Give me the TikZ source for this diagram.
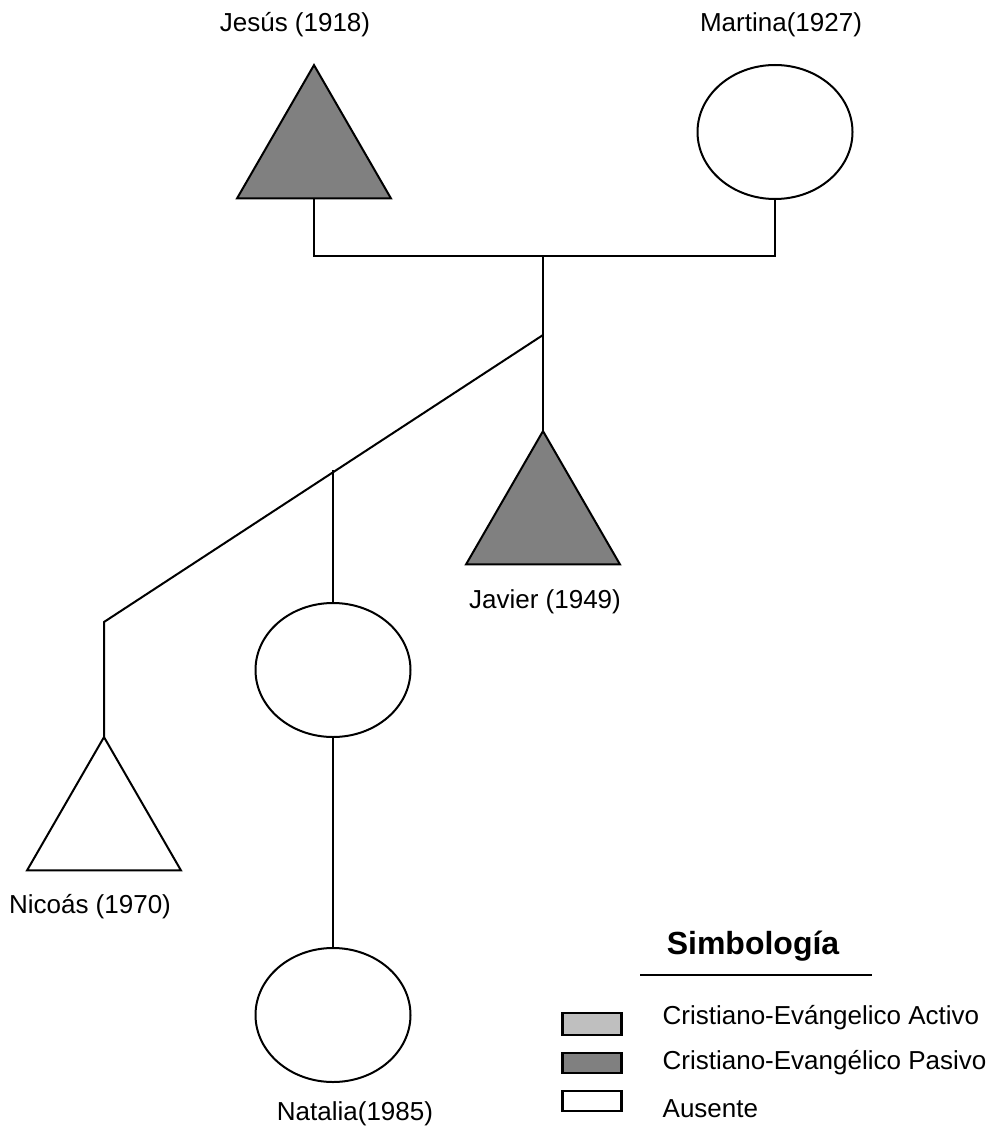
\documentclass[tikz,border=0pt]{standalone}
\usepackage{fontspec}
\setmainfont{Liberation Sans}
\usetikzlibrary{shapes.geometric}
\usetikzlibrary{positioning}

\tikzset{
    hombre/.style={regular polygon, regular polygon sides=3, draw, minimum size=88.9pt,
        inner sep=0pt, outer sep=0pt},
    mujer/.style={ellipse, draw, minimum width=77.5pt, minimum height=67pt,
        inner sep=0pt, outer sep=0pt},
    pasivo/.style={fill=black!50},
    activo/.style={fill=black!25},
    nombre/.style={font=\fontsize{13}{15}\selectfont},
    cuadro/.style={draw, line width=1.2pt, minimum width=29.5pt, minimum height=10pt, inner sep=0pt}
}

\begin{document}
\begin{tikzpicture}[x=0.5pt, y=-0.5pt, line width=1pt]
    \useasboundingbox (0,0) rectangle (995,1134);
    % Persons
    \node [hombre, pasivo] (jesus) at (314,154) {};
    \node [mujer] (martina) at (775,132) {};
    \node [hombre, pasivo] (javier) at (543,520) {};
    \node [mujer] (hija) at (333,670) {};
    \node [mujer] (natalia) at (333,1015) {};
    \node [hombre] (nicolas) at (104,826) {};
    % Names
    \node [nombre] (jesuslbl) at (295,25) {Jesús (1918)};
    \node [nombre] (martinalbl) at (781,25) {Martina(1927)};
    \node [nombre] (javierlbl) at (545,602) {Javier (1949)};
    \node [nombre] (nicolaslbl) at (90,907) {Nicoás (1970)};
    \node [nombre] (natalialbl) at (355,1114) {Natalia(1985)};
    % Lines
    \coordinate (pareja) at (543,256);
    \coordinate (rama) at (543,335);
    \coordinate (codo) at (104,622);
    \coordinate (hijarama) at (333,470);
    \draw (jesus.south) |- (pareja) -| (martina.south);
    \draw (pareja) -- (javier.north);
    \draw (rama) -- (codo) -- (nicolas.north);
    \draw (hijarama) -- (hija.north);
    \draw (hija.south) -- (natalia.north);
    % Legend
    \node [font=\bfseries\fontsize{16}{19}\selectfont] (simbologia) at (753,946) {Simbología};
    \coordinate (rayaizq) at (640,975);
    \coordinate (rayader) at (872,975);
    \draw (rayaizq) -- (rayader);
    \node [cuadro, activo, minimum height=11pt] (activo) at (592,1024) {};
    \node [cuadro, pasivo] (pasivo) at (592,1063) {};
    \node [cuadro] (ausente) at (592,1101) {};
    \node [nombre, anchor=west] (activolbl) at (655,1018) {Cristiano-Evángelico Activo};
    \node [nombre, anchor=west] (pasivolbl) at (655,1063) {Cristiano-Evangélico Pasivo};
    \node [nombre, anchor=west] (ausentelbl) at (655,1109) {Ausente};
\end{tikzpicture}
\end{document}
